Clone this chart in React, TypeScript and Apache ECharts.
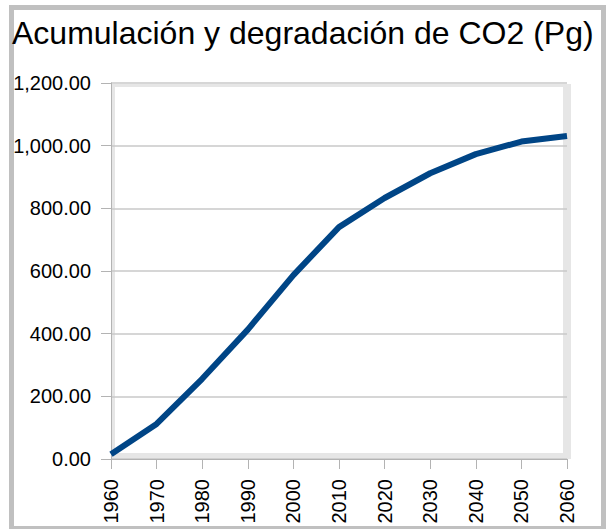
import React, { useEffect, useRef } from "react";
import * as echarts from "echarts";

const titleText = "Acumulación y degradación de CO2 (Pg)";
const years = ["1960", "1970", "1980", "1990", "2000", "2010", "2020", "2030", "2040", "2050", "2060"];
const co2Values = [15, 112, 256, 413, 587, 740, 833, 912, 973, 1013, 1031];
const yMin = 0;
const yMax = 1200;
const yInterval = 200;

const FONT = "'Liberation Sans', Arial, sans-serif";

const fmt = (v: number) =>
  v.toLocaleString("en-US", { minimumFractionDigits: 2, maximumFractionDigits: 2 });

export default function App() {
  const ref = useRef<HTMLDivElement>(null);

  useEffect(() => {
    document.body.style.margin = "0";
    if (!ref.current) return;
    const chart = echarts.init(ref.current, undefined, { renderer: "svg" });
    chart.setOption({
      animation: false,
      backgroundColor: "#ffffff",
      title: {
        text: titleText,
        left: 12,
        top: 17,
        padding: 0,
        textStyle: { fontFamily: FONT, fontSize: 32, fontWeight: "normal", color: "#000000" },
      },
      graphic: [
        {
          type: "rect",
          z: -10,
          silent: true,
          shape: { x: 11.5, y: 7.5, width: 592, height: 521 },
          style: { fill: "none", stroke: "#c0c0c0", lineWidth: 5 },
        },
        {
          type: "rect",
          z: -10,
          silent: true,
          shape: { x: 111, y: 84, width: 460, height: 375 },
          style: { fill: "#e6e6e6" },
        },
        {
          type: "rect",
          z: -9,
          silent: true,
          shape: { x: 115, y: 87, width: 448, height: 366 },
          style: { fill: "#ffffff" },
        },
      ],
      grid: { left: 111, right: 40, top: 83, bottom: 70, containLabel: false },
      xAxis: {
        type: "category",
        data: years,
        boundaryGap: false,
        axisLine: { show: true, lineStyle: { color: "#b3b3b3", width: 1 } },
        axisTick: { show: true, length: 10, alignWithLabel: true, interval: 0, lineStyle: { color: "#b3b3b3" } },
        axisLabel: {
          interval: 0,
          rotate: 90,
          margin: 20,
          fontFamily: FONT,
          fontSize: 20,
          color: "#000000",
        },
        splitLine: { show: false },
      },
      yAxis: {
        type: "value",
        min: yMin,
        max: yMax,
        interval: yInterval,
        axisLine: { show: true, lineStyle: { color: "#b3b3b3", width: 1 } },
        axisTick: { show: true, length: 10, lineStyle: { color: "#b3b3b3" } },
        axisLabel: {
          margin: 20,
          fontFamily: FONT,
          fontSize: 20,
          color: "#000000",
          formatter: (v: number) => fmt(v),
        },
        splitLine: { show: true, lineStyle: { color: "#c8c8c8", width: 1.5 } },
      },
      series: [
        {
          type: "line",
          data: co2Values,
          showSymbol: false,
          symbol: "none",
          lineStyle: { color: "#004586", width: 6, cap: "butt", join: "bevel" },
          itemStyle: { color: "#004586" },
        },
      ],
    });
    return () => chart.dispose();
  }, []);

  return <div ref={ref} style={{ width: 607, height: 529 }} />;
}
